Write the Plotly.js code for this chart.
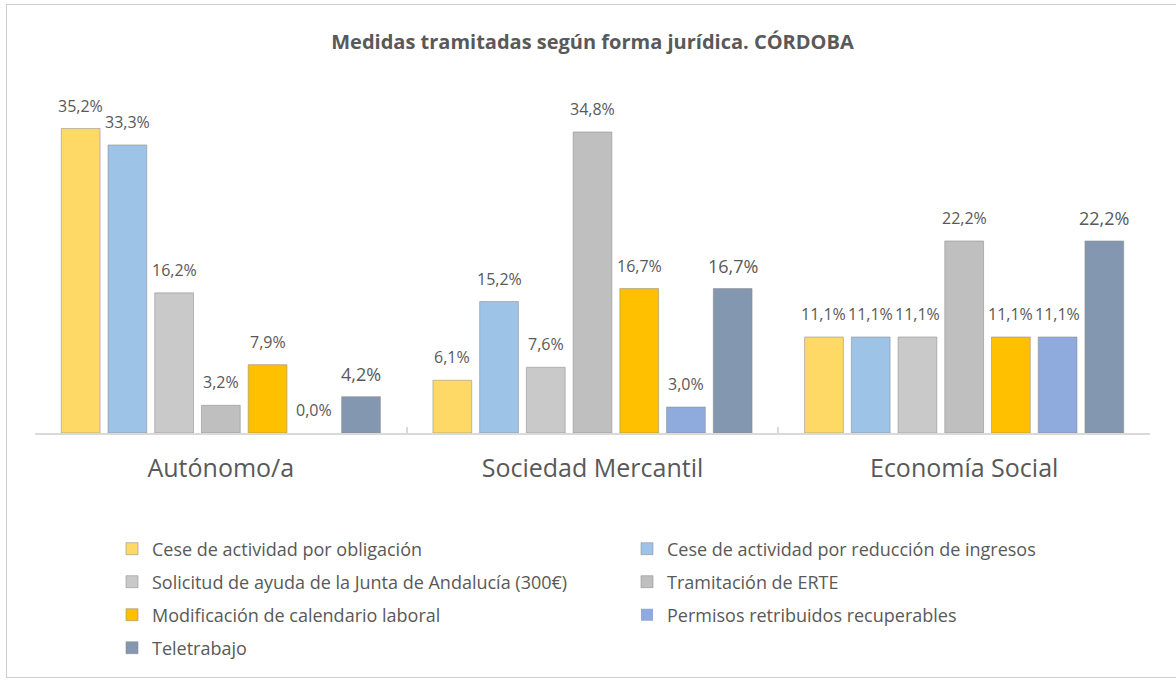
<!DOCTYPE html>
<html>
<head>
<meta charset="utf-8">
<script src="https://cdn.plot.ly/plotly-3.0.1.min.js"></script>
<style>
  html, body { margin: 0; padding: 0; background: #ffffff; }
  #wrap { position: relative; width: 1176px; height: 681px; overflow: hidden; }
  #chart { position: absolute; left: 0; top: 0; width: 1176px; height: 681px; }
  #frame { position: absolute; left: 6px; top: 4px; width: 1180px; height: 674px;
           border: 1.5px solid #cfcfcf; pointer-events: none; box-sizing: border-box; }
</style>
</head>
<body>
<div id="wrap">
  <div id="chart"></div>
  <div id="frame"></div>
</div>
<script>
// ---- data ----
const categories = ['Autónomo/a', 'Sociedad Mercantil', 'Economía Social'];
const seriesNames = [
  'Cese de actividad por obligación',
  'Cese de actividad por reducción de ingresos',
  'Solicitud de ayuda de la Junta de Andalucía (300€)',
  'Tramitación de ERTE',
  'Modificación de calendario laboral',
  'Permisos retribuidos recuperables',
  'Teletrabajo'
];
const ceseObligacion   = [35.2, 6.1, 11.1];
const ceseReduccion    = [33.3, 15.2, 11.1];
const solicitudJunta   = [16.2, 7.6, 11.1];
const tramitacionERTE  = [3.2, 34.8, 22.2];
const modCalendario    = [7.9, 16.7, 11.1];
const permisosRetrib   = [0.0, 3.0, 11.1];
const teletrabajo      = [4.2, 16.7, 22.2];
const seriesValues = [ceseObligacion, ceseReduccion, solicitudJunta, tramitacionERTE,
                      modCalendario, permisosRetrib, teletrabajo];

// ---- styles ----
const colors = ['#FFD966', '#9DC3E6', '#C9C9C9', '#BFBFBF', '#FFC000', '#8FAADC', '#8497B0'];
const legendIds = ['legend', 'legend', 'legend2', 'legend2', 'legend3', 'legend3', 'legend4'];
const labelSizes = [16, 16, 16, 16, 16, 16, 18];
const textColor = '#595959';

const W = 1176, H = 681;
const margin = {l: 35, r: 26, t: 87, b: 248};
const bargap = 0.12, bargroupgap = 0.17;
const plotW = W - margin.l - margin.r;
const plotH = H - margin.t - margin.b;
const catPx = plotW / categories.length;
const slotPx = catPx * (1 - bargap) / seriesValues.length;

function fmt(v) { return v.toFixed(1).replace('.', ',') + '%'; }

const traces = seriesValues.map((vals, i) => ({
  type: 'bar',
  name: seriesNames[i],
  x: categories,
  y: vals,
  marker: {color: colors[i],
           line: {color: 'rgba(140,140,140,0.55)', width: vals.map(v => v > 0 ? 1 : 0)}},
  legend: legendIds[i],
  hoverinfo: 'x+y+name'
}));

const annotations = [];
seriesValues.forEach((vals, i) => {
  vals.forEach((v, j) => {
    annotations.push({
      x: categories[j], y: v, xref: 'x', yref: 'y',
      text: fmt(v), showarrow: false,
      xanchor: 'center', yanchor: 'bottom',
      xshift: (i - (seriesValues.length - 1) / 2) * slotPx,
      yshift: i === 6 ? 9 : 10,
      font: {family: 'Open Sans, sans-serif', size: labelSizes[i], color: textColor}
    });
  });
});

function py(pix) { return (H - margin.b - pix) / plotH; }
function px(pix) { return (pix - margin.l) / plotW; }

const legendBase = {
  orientation: 'h', xanchor: 'left', yanchor: 'middle',
  font: {family: 'Open Sans, sans-serif', size: 18, color: textColor},
  bgcolor: 'rgba(0,0,0,0)', entrywidth: 470, entrywidthmode: 'pixels',
  traceorder: 'normal'
};
const legendX = px(112);

const layout = {
  width: W, height: H,
  margin: margin,
  paper_bgcolor: '#ffffff', plot_bgcolor: '#ffffff',
  barmode: 'group', bargap: bargap, bargroupgap: bargroupgap,
  font: {family: 'Open Sans, sans-serif', color: textColor},
  title: {
    text: '<b>Medidas tramitadas según forma jurídica. CÓRDOBA</b>',
    font: {family: 'Open Sans, sans-serif', size: 20, color: textColor},
    x: 0.5, xref: 'paper', xanchor: 'center',
    y: 1 - 42 / H, yref: 'container', yanchor: 'middle'
  },
  xaxis: {
    type: 'category',
    showline: true, linecolor: '#d9d9d9', linewidth: 2,
    ticks: 'inside', tickson: 'boundaries', ticklen: 6, tickwidth: 2, tickcolor: '#d9d9d9',
    showgrid: false, zeroline: false,
    tickfont: {family: 'Open Sans, sans-serif', size: 25, color: textColor},
    ticklabelstandoff: 12, fixedrange: true
  },
  yaxis: {
    range: [0, 40], visible: false, showgrid: false, zeroline: false, fixedrange: true
  },
  showlegend: true,
  legend:  Object.assign({}, legendBase, {x: legendX, y: py(549)}),
  legend2: Object.assign({}, legendBase, {x: legendX, y: py(582)}),
  legend3: Object.assign({}, legendBase, {x: legendX, y: py(615)}),
  legend4: Object.assign({}, legendBase, {x: legendX, y: py(648)}),
  annotations: annotations
};

Plotly.newPlot('chart', traces, layout, {displayModeBar: false, staticPlot: true});
</script>
</body>
</html>
